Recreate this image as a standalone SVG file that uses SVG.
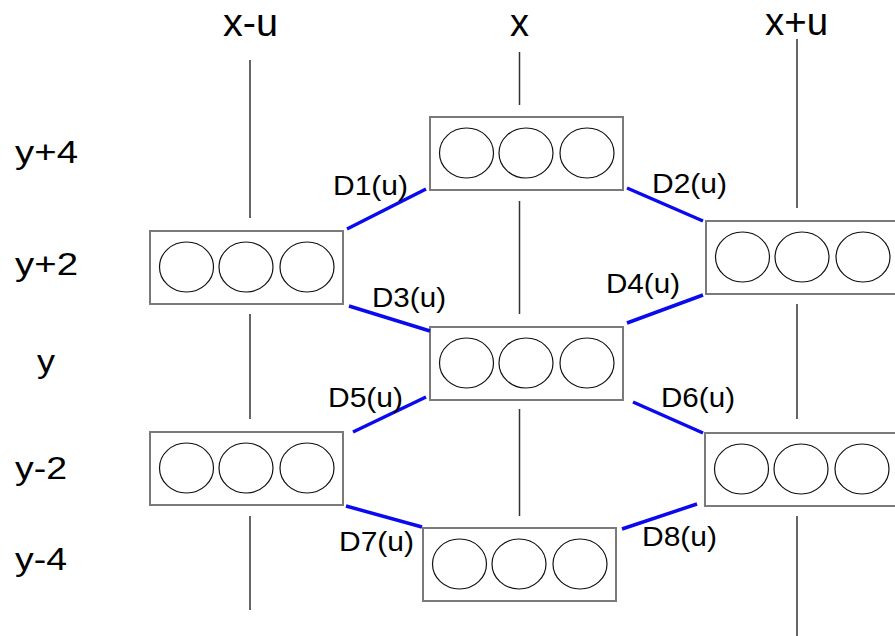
<svg xmlns="http://www.w3.org/2000/svg" width="895" height="636" viewBox="0 0 895 636">
  <style>
    .bg { fill: #ffffff; }
    .axis { stroke: #333333; stroke-width: 1.5; fill: none; }
    .box { fill: #ffffff; stroke: #7a7a7a; stroke-width: 2; }
    .cell { fill: none; stroke: #111111; stroke-width: 1.2; }
    .link { stroke: #0a0aee; stroke-width: 3.5; stroke-linecap: butt; }
    .lbl { font-family: "Liberation Sans", Arial, sans-serif; fill: #000000; }
    .head { font-size: 38px; }
    .row { font-size: 31px; }
    .dist { font-size: 27px; }
  </style>
  <defs>
    <!-- a state: frame with three cells -->
    <g id="state">
      <rect class="box" x="0" y="0" width="193" height="73"/>
      <ellipse class="cell" cx="36.5" cy="36" rx="27" ry="25"/>
      <ellipse class="cell" cx="96" cy="36" rx="27" ry="25"/>
      <ellipse class="cell" cx="157" cy="36" rx="27" ry="25"/>
    </g>
  </defs>
  <rect class="bg" x="0" y="0" width="895" height="636"/>

  <!-- column headings -->
  <g id="col-labels" class="lbl head">
    <text x="223" y="36" textLength="55" lengthAdjust="spacingAndGlyphs">x-u</text>
    <text x="510" y="36" textLength="19" lengthAdjust="spacingAndGlyphs">x</text>
    <text x="765" y="35" textLength="63" lengthAdjust="spacingAndGlyphs">x+u</text>
  </g>

  <!-- row headings -->
  <g id="row-labels" class="lbl row">
    <text x="15" y="163" textLength="63" lengthAdjust="spacingAndGlyphs">y+4</text>
    <text x="15" y="275" textLength="63" lengthAdjust="spacingAndGlyphs">y+2</text>
    <text x="37" y="372" textLength="18" lengthAdjust="spacingAndGlyphs">y</text>
    <text x="15" y="479" textLength="52" lengthAdjust="spacingAndGlyphs">y-2</text>
    <text x="15" y="570" textLength="52" lengthAdjust="spacingAndGlyphs">y-4</text>
  </g>

  <!-- column axes -->
  <g id="axes" class="axis">
    <line x1="250" y1="60" x2="250" y2="218"/>
    <line x1="250" y1="314" x2="250" y2="419"/>
    <line x1="250" y1="516" x2="250" y2="610"/>
    <line x1="519.5" y1="52" x2="519.5" y2="105"/>
    <line x1="519.5" y1="201" x2="519.5" y2="314"/>
    <line x1="519.5" y1="409" x2="519.5" y2="516"/>
    <line x1="797" y1="39" x2="797" y2="208"/>
    <line x1="797" y1="304" x2="797" y2="419"/>
    <line x1="797" y1="516" x2="797" y2="636"/>
  </g>

  <!-- states -->
  <g id="s-x-y4"><use href="#state" x="430" y="117"/></g>
  <g id="s-xm-y2"><use href="#state" x="150" y="231"/></g>
  <g id="s-xp-y2"><use href="#state" x="706" y="221"/></g>
  <g id="s-x-y"><use href="#state" x="430" y="327"/></g>
  <g id="s-xm-ym2"><use href="#state" x="150" y="432"/></g>
  <g id="s-xp-ym2"><use href="#state" x="705" y="433"/></g>
  <g id="s-x-ym4"><use href="#state" x="423" y="528"/></g>

  <!-- distance links -->
  <g id="connectors" class="link">
    <line x1="347" y1="229" x2="426" y2="189"/>
    <line x1="627" y1="188" x2="703" y2="221"/>
    <line x1="349" y1="306" x2="430" y2="331"/>
    <line x1="627" y1="323" x2="703" y2="295"/>
    <line x1="353" y1="432" x2="426" y2="397"/>
    <line x1="633" y1="402" x2="703" y2="433"/>
    <line x1="346" y1="506" x2="422" y2="527"/>
    <line x1="622" y1="529" x2="697" y2="504"/>
  </g>

  <!-- link labels -->
  <g id="link-labels" class="lbl dist">
    <text x="333" y="195" textLength="75" lengthAdjust="spacingAndGlyphs">D1(u)</text>
    <text x="652" y="193" textLength="75" lengthAdjust="spacingAndGlyphs">D2(u)</text>
    <text x="372" y="307" textLength="74" lengthAdjust="spacingAndGlyphs">D3(u)</text>
    <text x="606" y="293" textLength="74" lengthAdjust="spacingAndGlyphs">D4(u)</text>
    <text x="328" y="407" textLength="75" lengthAdjust="spacingAndGlyphs">D5(u)</text>
    <text x="661" y="407" textLength="74" lengthAdjust="spacingAndGlyphs">D6(u)</text>
    <text x="339" y="551" textLength="75" lengthAdjust="spacingAndGlyphs">D7(u)</text>
    <text x="642" y="546" textLength="75" lengthAdjust="spacingAndGlyphs">D8(u)</text>
  </g>
</svg>
